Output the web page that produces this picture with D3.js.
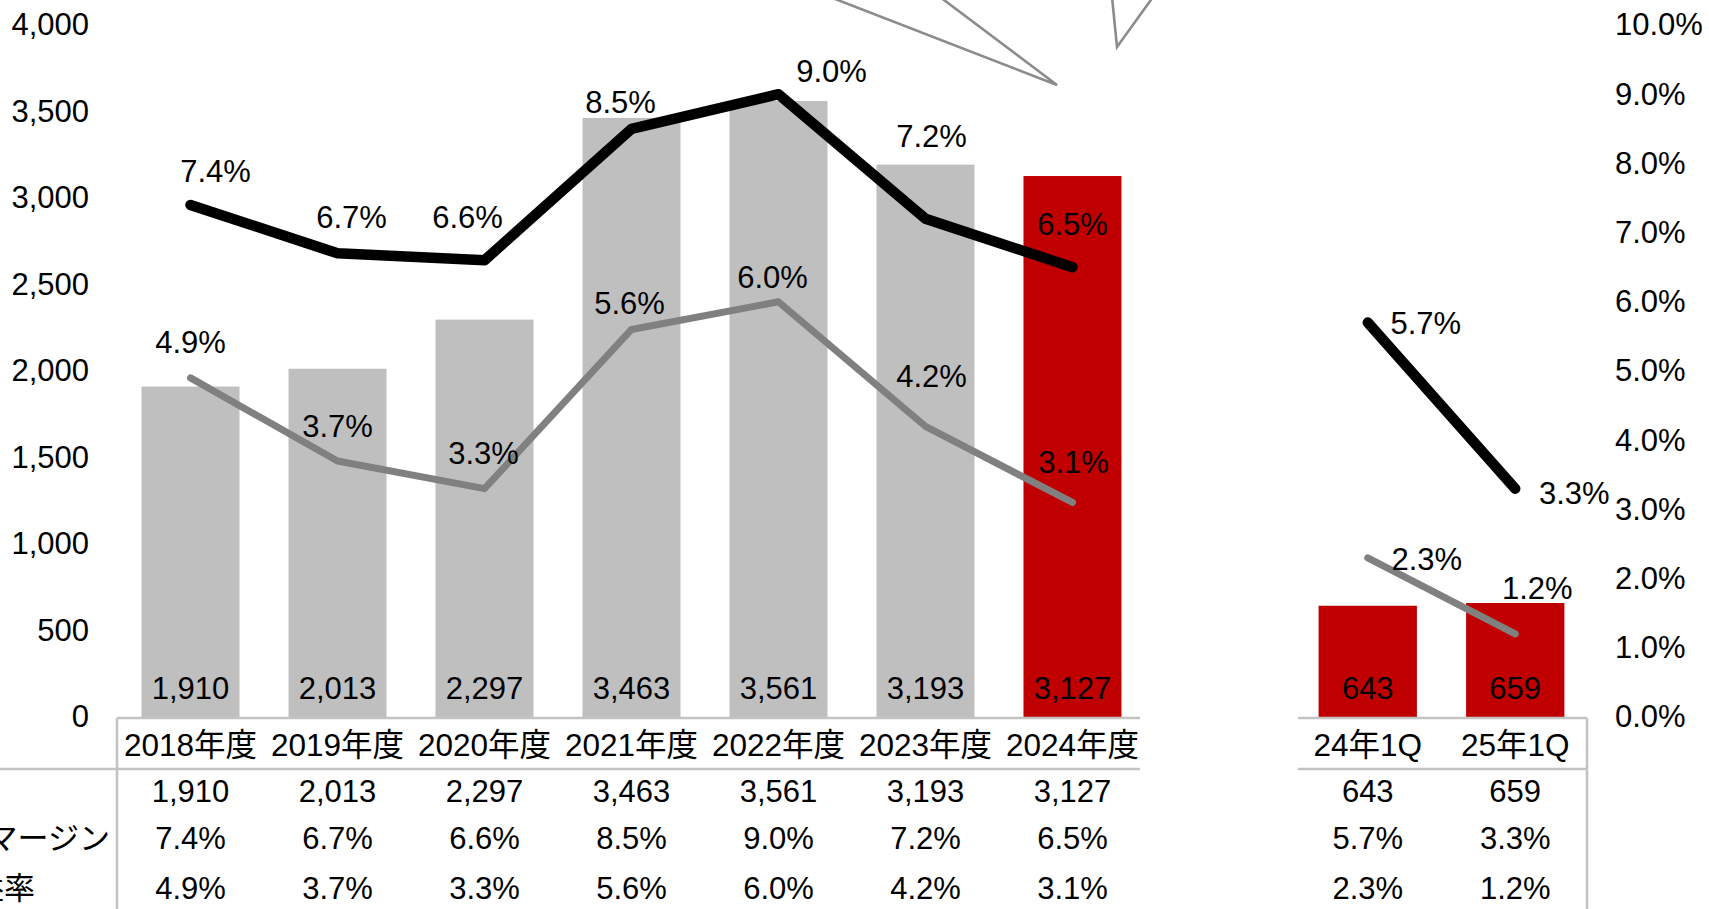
<!DOCTYPE html>
<html>
<head>
<meta charset="utf-8">
<script src="https://cdn.jsdelivr.net/npm/d3@7"></script>
<style>
  body { margin: 0; background: #fff; }
  svg text { font-family: "Liberation Sans", Arial, "Noto Sans CJK JP", sans-serif; fill: #000; }
  .tick text { font-size: 31px; }
</style>
</head>
<body>
<div id="chart"></div>
<script>
// yearly data
var years = ["2018年度", "2019年度", "2020年度", "2021年度", "2022年度", "2023年度", "2024年度"];
var yearValues = [1910, 2013, 2297, 3463, 3561, 3193, 3127];
var yearMargin = [7.4, 6.7, 6.6, 8.5, 9.0, 7.2, 6.5];
var yearRate = [4.9, 3.7, 3.3, 5.6, 6.0, 4.2, 3.1];

// quarterly data
var quarters = ["24年1Q", "25年1Q"];
var quarterValues = [643, 659];
var quarterMargin = [5.7, 3.3];
var quarterRate = [2.3, 1.2];

var leftTicks = [0, 500, 1000, 1500, 2000, 2500, 3000, 3500, 4000];
var rightTicks = [0, 1, 2, 3, 4, 5, 6, 7, 8, 9, 10];
var rowLabels = ["", "営業利益マージン", "当期純利益率"];

// hand placed label nudges (dx, dy from the point)
var yearMarginNudge = [[25, -23], [14, -25], [-17, -32], [-11, -16], [53, -12], [6, -72], [0, -32]];
var yearRateNudge = [[0, -25], [0, -24], [-1, -25], [-2, -15], [-6, -14], [6, -39], [1, -29]];
var quarterMarginNudge = [[58, 11], [59, 15]];
var quarterRateNudge = [[59, 12], [22, -35]];

var chartW = 1709, chartH = 909;
var plotBottom = 717, plotTop = 25;

var svg = d3.select('#chart').append('svg')
    .attr('width', chartW)
    .attr('height', chartH);

svg.append('rect').attr('width', chartW).attr('height', chartH).attr('fill', '#fff');

var yLeft = d3.scaleLinear().domain([0, 4000]).range([plotBottom, plotTop]);
var yRight = d3.scaleLinear().domain([0, 10]).range([plotBottom, plotTop]);

var xYear = d3.scaleBand().domain(years).range([118, 1145]).paddingInner(1 / 3).paddingOuter(0.16);
var xQuarter = d3.scaleBand().domain(quarters).range([1295, 1588]).paddingInner(1 / 3).paddingOuter(0.16);

var fmtNum = d3.format(','),
    fmtPct = function(d) { return d3.format('.1f')(d) + '%'; };

// axes
svg.append('g')
    .attr('transform', 'translate(89,0)')
    .call(d3.axisLeft(yLeft).tickValues(leftTicks).tickFormat(fmtNum).tickSize(0).tickPadding(0))
    .call(function(g) { g.select('.domain').remove(); });

svg.append('g')
    .attr('transform', 'translate(1615,0)')
    .call(d3.axisRight(yRight).tickValues(rightTicks).tickFormat(fmtPct).tickSize(0).tickPadding(0))
    .call(function(g) { g.select('.domain').remove(); });

svg.selectAll('.tick text').attr('fill', '#000');

// decorative callout tails cut off at the top
var tails = [[[830, -3], [1057, 85], [940, -3]], [[1112, -3], [1117, 47], [1153, -3]]];
svg.selectAll('.tail').data(tails).enter().append('path')
    .attr('class', 'tail')
    .attr('d', d3.line())
    .attr('fill', 'none')
    .attr('stroke', '#8c8c8c')
    .attr('stroke-width', 2.6);

function drawGroup(x, cats, values, margin, rate, marginNudge, rateNudge, colorFn) {
    var g = svg.append('g');
    var cx = function(i) { return x(cats[i]) + x.bandwidth() / 2; };

    g.selectAll('rect').data(values).enter().append('rect')
        .attr('x', function(d, i) { return x(cats[i]); })
        .attr('y', function(d) { return yLeft(d); })
        .attr('width', x.bandwidth())
        .attr('height', function(d) { return yLeft(0) - yLeft(d); })
        .attr('fill', function(d, i) { return colorFn(i); });

    g.selectAll('.barlabel').data(values).enter().append('text')
        .attr('class', 'barlabel')
        .attr('x', function(d, i) { return cx(i); })
        .attr('y', yLeft(0) - 18)
        .attr('text-anchor', 'middle')
        .style('font-size', '31px')
        .text(fmtNum);

    var line = d3.line()
        .x(function(d, i) { return cx(i); })
        .y(function(d) { return yRight(d); });

    g.append('path')
        .attr('d', line(rate))
        .attr('fill', 'none')
        .attr('stroke', '#808080')
        .attr('stroke-width', 7)
        .attr('stroke-linecap', 'round')
        .attr('stroke-linejoin', 'round');

    g.append('path')
        .attr('d', line(margin))
        .attr('fill', 'none')
        .attr('stroke', '#000')
        .attr('stroke-width', 10.5)
        .attr('stroke-linecap', 'round')
        .attr('stroke-linejoin', 'round');

    [[margin, marginNudge], [rate, rateNudge]].forEach(function(s) {
        g.append('g').selectAll('text').data(s[0]).enter().append('text')
            .attr('x', function(d, i) { return cx(i) + s[1][i][0]; })
            .attr('y', function(d, i) { return yRight(d) + s[1][i][1]; })
            .attr('text-anchor', 'middle')
            .style('font-size', '31px')
            .text(fmtPct);
    });

    // data table under the chart
    var t = svg.append('g');
    t.selectAll('.cat').data(cats).enter().append('text')
        .attr('x', function(d, i) { return cx(i); })
        .attr('y', 756)
        .attr('text-anchor', 'middle')
        .style('font-size', '31.5px')
        .text(function(d) { return d; });

    var rows = [values.map(fmtNum), margin.map(fmtPct), rate.map(fmtPct)];
    var rowY = [802, 849, 899];
    rows.forEach(function(r, k) {
        t.selectAll('.row' + k).data(r).enter().append('text')
            .attr('x', function(d, i) { return cx(i); })
            .attr('y', rowY[k])
            .attr('text-anchor', 'middle')
            .style('font-size', '31px')
            .text(function(d) { return d; });
    });
    return x.range();
}

var r1 = drawGroup(xYear, years, yearValues, yearMargin, yearRate, yearMarginNudge, yearRateNudge,
    function(i) { return i === years.length - 1 ? '#c00000' : '#bfbfbf'; });
var r2 = drawGroup(xQuarter, quarters, quarterValues, quarterMargin, quarterRate, quarterMarginNudge, quarterRateNudge,
    function() { return '#c00000'; });

// table grid lines
var gridColor = '#c3c3c3';
var grid = [
    [[r1[0] - 1, 718], [r1[1] - 5, 718]],
    [[0, 769], [r1[1] - 5, 769]],
    [[r1[0] - 1, 718], [r1[0] - 1, 912]],
    [[r2[0] + 3, 718], [r2[1] - 1, 718]],
    [[r2[0] + 3, 769], [r2[1] - 1, 769]],
    [[r2[1] - 1, 718], [r2[1] - 1, 912]]
];
svg.selectAll('.grid').data(grid).enter().append('path')
    .attr('d', d3.line())
    .attr('stroke', gridColor)
    .attr('stroke-width', 2.6)
    .attr('fill', 'none');

// row labels, clipped at the left edge like the original
var rowLabelEnd = [0, 110, 35];
var rowLabelY = [802, 849, 899];
svg.selectAll('.rowlabel').data(rowLabels).enter().append('text')
    .attr('x', function(d, i) { return rowLabelEnd[i]; })
    .attr('y', function(d, i) { return rowLabelY[i]; })
    .attr('text-anchor', 'end')
    .style('font-size', '31px')
    .text(function(d) { return d; });
</script>
</body>
</html>
